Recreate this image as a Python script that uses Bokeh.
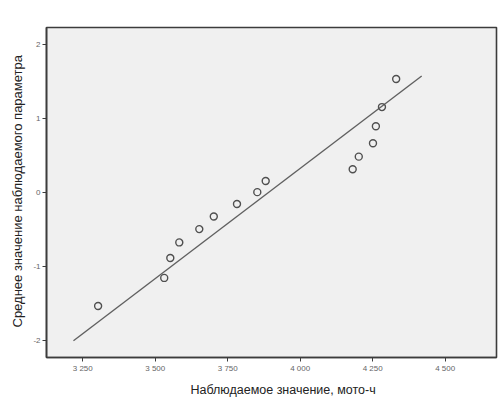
from bokeh.plotting import figure
from bokeh.models import Range1d, FixedTicker, Title
from bokeh.embed import file_html
from bokeh.resources import INLINE

# Data (Q-Q plot)
observed = [3303, 3531, 3552, 3583, 3652, 3702, 3782, 3852, 3881,
            4181, 4202, 4251, 4261, 4282, 4331]
expected = [-1.54, -1.16, -0.89, -0.68, -0.50, -0.33, -0.16, 0.0, 0.15,
            0.31, 0.48, 0.66, 0.89, 1.15, 1.53]
line_x = [3218, 4419]
line_y = [-2.01, 1.57]

x_ticks = [3250, 3500, 3750, 4000, 4250, 4500]
x_tick_labels = ["3 250", "3 500", "3 750", "4 000", "4 250", "4 500"]
y_ticks = [-2, -1, 0, 1, 2]
y_tick_labels = ["-2", "-1", "0", "1", "2"]

x_label = "Наблюдаемое значение, мото-ч"
y_label = "Среднее значение наблюдаемого  параметра"

FONT = "Liberation Sans"

p = figure(width=500, height=403, output_backend="svg", toolbar_location=None,
           x_range=Range1d(3125, 4677), y_range=Range1d(-2.236, 2.226),
           min_border_left=46, min_border_right=4, min_border_top=27,
           min_border_bottom=46)

p.background_fill_color = "#f0f0f0"
p.border_fill_color = "white"
p.outline_line_color = "#3c3c3c"
p.outline_line_width = 1.6
p.grid.visible = False

p.line(line_x, line_y, line_color="#606060", line_width=1.4)
p.scatter(observed, expected, marker="circle", size=7, fill_color=None,
          line_color="#505050", line_width=1.4)

p.xaxis.ticker = FixedTicker(ticks=x_ticks)
p.xaxis.major_label_overrides = {t: l for t, l in zip(x_ticks, x_tick_labels)}
p.yaxis.ticker = FixedTicker(ticks=y_ticks)
p.yaxis.major_label_overrides = {t: l for t, l in zip(y_ticks, y_tick_labels)}

for ax in (p.xaxis[0], p.yaxis[0]):
    ax.axis_line_color = "#3c3c3c"
    ax.axis_line_width = 1.6
    ax.major_tick_line_color = "#3c3c3c"
    ax.major_tick_out = 4
    ax.major_tick_in = 0
    ax.minor_tick_line_color = None
    ax.major_label_text_font = FONT
    ax.major_label_text_font_size = "8px"
    ax.major_label_text_color = "#666666"
    ax.major_label_standoff = 2

# Axis titles (as Titles so they can be shifted off-centre like the reference)
p.add_layout(Title(text=x_label, text_font=FONT, text_font_size="12.5px",
                   text_font_style="normal", text_color="#222222",
                   align="left", offset=144, standoff=11), "below")
p.add_layout(Title(text=y_label, text_font=FONT, text_font_size="13px",
                   text_font_style="normal", text_color="#222222",
                   align="left", offset=30, standoff=12), "left")

open("out.html", "w").write(file_html(p, INLINE))
